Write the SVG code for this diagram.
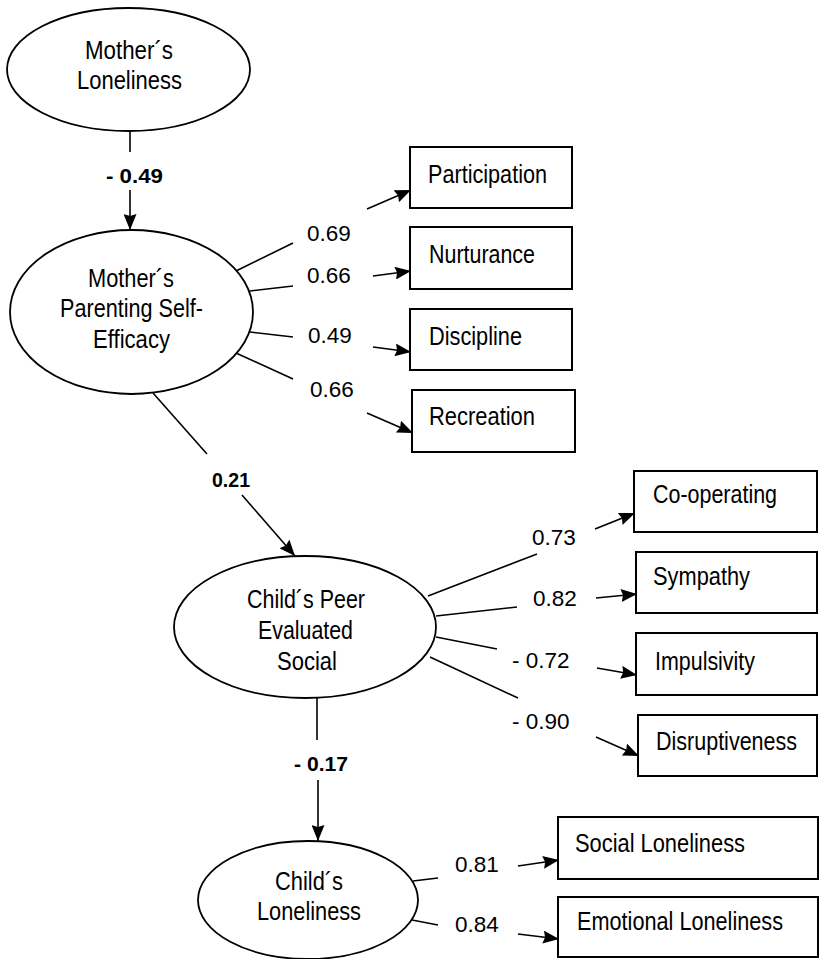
<svg xmlns="http://www.w3.org/2000/svg" width="820" height="959" viewBox="0 0 820 959">
<defs>
<marker id="ah" viewBox="0 0 16 13" refX="16" refY="6.5" markerWidth="16" markerHeight="13" markerUnits="userSpaceOnUse" orient="auto">
<path d="M0,0 L16,6.5 L0,13 L2,6.5 Z" fill="#000"/>
</marker>
<style>
.bg{fill:#fff}
.node ellipse{fill:#fff;stroke:#000;stroke-width:1.8}
.node rect{fill:#fff;stroke:#000;stroke-width:2}
.node text{font-family:"Liberation Sans",Arial,sans-serif;font-size:25px;fill:#000}
#connectors line{stroke:#000;stroke-width:1.6;fill:none}
#connectors line.arr{marker-end:url(#ah)}
.lbl{font-family:"Liberation Sans",Arial,sans-serif;font-size:22.5px;fill:#000}
.blbl{font-family:"Liberation Sans",Arial,sans-serif;font-size:21px;font-weight:bold;fill:#000}
</style>
</defs>
<rect class="bg" x="0" y="0" width="820" height="959"/>

<g id="connectors">
<line x1="130" y1="131" x2="130" y2="152"/>
<line class="arr" x1="130" y1="190" x2="130" y2="230"/>
<line x1="153" y1="393" x2="207" y2="454"/>
<line class="arr" x1="242" y1="495" x2="295" y2="556"/>
<line x1="317" y1="698" x2="317" y2="740"/>
<line class="arr" x1="318" y1="780" x2="318" y2="841"/>

<line x1="236" y1="271" x2="293" y2="243"/>
<line class="arr" x1="367" y1="209" x2="411" y2="190"/>
<line x1="250" y1="291" x2="293" y2="286"/>
<line class="arr" x1="373" y1="276" x2="411" y2="271"/>
<line x1="250" y1="332" x2="293" y2="337"/>
<line class="arr" x1="373" y1="347" x2="411" y2="352"/>
<line x1="236" y1="353" x2="293" y2="379"/>
<line class="arr" x1="367" y1="413" x2="413" y2="433"/>

<line x1="428" y1="596" x2="537" y2="554"/>
<line class="arr" x1="595" y1="529" x2="635" y2="513"/>
<line x1="436" y1="616" x2="517" y2="607"/>
<line class="arr" x1="596" y1="598" x2="637" y2="594"/>
<line x1="436" y1="637" x2="497" y2="649"/>
<line class="arr" x1="597" y1="668" x2="637" y2="675"/>
<line x1="430" y1="657" x2="518" y2="698"/>
<line class="arr" x1="596" y1="737" x2="639" y2="756"/>

<line x1="413" y1="881" x2="438" y2="878"/>
<line class="arr" x1="518" y1="866" x2="559" y2="860"/>
<line x1="412" y1="920" x2="438" y2="925"/>
<line class="arr" x1="518" y1="934" x2="559" y2="939"/>
</g>

<g id="labels">
<text class="blbl" x="106" y="183" textLength="57" lengthAdjust="spacingAndGlyphs">- 0.49</text>
<text class="blbl" x="212" y="487" textLength="38" lengthAdjust="spacingAndGlyphs">0.21</text>
<text class="blbl" x="294" y="771" textLength="54" lengthAdjust="spacingAndGlyphs">- 0.17</text>
<text class="lbl" x="307" y="241">0.69</text>
<text class="lbl" x="307" y="283">0.66</text>
<text class="lbl" x="308" y="343">0.49</text>
<text class="lbl" x="310" y="397">0.66</text>
<text class="lbl" x="532" y="545">0.73</text>
<text class="lbl" x="533" y="606">0.82</text>
<text class="lbl" x="512" y="668">- 0.72</text>
<text class="lbl" x="512" y="729">- 0.90</text>
<text class="lbl" x="455" y="872">0.81</text>
<text class="lbl" x="455" y="932">0.84</text>
</g>

<g id="mothers-loneliness" class="node">
<ellipse cx="128.5" cy="69.5" rx="121.5" ry="61.5"/>
<text x="85" y="59" textLength="88" lengthAdjust="spacingAndGlyphs">Mother´s</text>
<text x="77" y="89" textLength="105" lengthAdjust="spacingAndGlyphs">Loneliness</text>
</g>

<g id="parenting-self-efficacy" class="node">
<ellipse cx="131.5" cy="312" rx="121.5" ry="82"/>
<text x="88" y="287" textLength="86" lengthAdjust="spacingAndGlyphs">Mother´s</text>
<text x="60" y="317" textLength="143" lengthAdjust="spacingAndGlyphs">Parenting Self-</text>
<text x="93" y="348" textLength="77" lengthAdjust="spacingAndGlyphs">Efficacy</text>
</g>

<g id="participation" class="node">
<rect x="410" y="147" width="162" height="61"/>
<text x="428" y="183" textLength="119" lengthAdjust="spacingAndGlyphs">Participation</text>
</g>
<g id="nurturance" class="node">
<rect x="410" y="227" width="162" height="62"/>
<text x="429" y="263" textLength="106" lengthAdjust="spacingAndGlyphs">Nurturance</text>
</g>
<g id="discipline" class="node">
<rect x="410" y="309" width="162" height="61"/>
<text x="429" y="345" textLength="93" lengthAdjust="spacingAndGlyphs">Discipline</text>
</g>
<g id="recreation" class="node">
<rect x="412" y="390" width="163" height="62"/>
<text x="429" y="425" textLength="106" lengthAdjust="spacingAndGlyphs">Recreation</text>
</g>

<g id="peer-evaluated-social" class="node">
<ellipse cx="305" cy="627" rx="131" ry="71"/>
<text x="247" y="608" textLength="118" lengthAdjust="spacingAndGlyphs">Child´s Peer</text>
<text x="258" y="639" textLength="95" lengthAdjust="spacingAndGlyphs">Evaluated</text>
<text x="277" y="670" textLength="60" lengthAdjust="spacingAndGlyphs">Social</text>
</g>

<g id="co-operating" class="node">
<rect x="634" y="471" width="183" height="61"/>
<text x="653" y="503" textLength="124" lengthAdjust="spacingAndGlyphs">Co-operating</text>
</g>
<g id="sympathy" class="node">
<rect x="636" y="552" width="181" height="61"/>
<text x="653" y="585" textLength="97" lengthAdjust="spacingAndGlyphs">Sympathy</text>
</g>
<g id="impulsivity" class="node">
<rect x="636" y="633" width="181" height="62"/>
<text x="655" y="670" textLength="100" lengthAdjust="spacingAndGlyphs">Impulsivity</text>
</g>
<g id="disruptiveness" class="node">
<rect x="638" y="715" width="179" height="61"/>
<text x="656" y="750" textLength="141" lengthAdjust="spacingAndGlyphs">Disruptiveness</text>
</g>

<g id="childs-loneliness" class="node">
<ellipse cx="308" cy="900" rx="110" ry="59"/>
<text x="275" y="890" textLength="68" lengthAdjust="spacingAndGlyphs">Child´s</text>
<text x="257" y="920" textLength="104" lengthAdjust="spacingAndGlyphs">Loneliness</text>
</g>

<g id="social-loneliness" class="node">
<rect x="558" y="817" width="260" height="62"/>
<text x="575" y="852" textLength="170" lengthAdjust="spacingAndGlyphs">Social Loneliness</text>
</g>
<g id="emotional-loneliness" class="node">
<rect x="558" y="897" width="260" height="60"/>
<text x="577" y="930" textLength="206" lengthAdjust="spacingAndGlyphs">Emotional Loneliness</text>
</g>
</svg>
